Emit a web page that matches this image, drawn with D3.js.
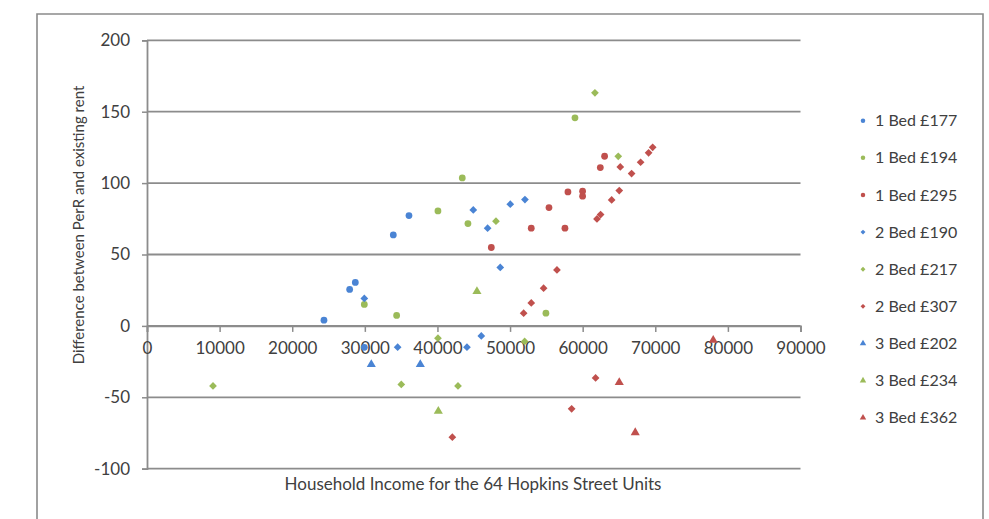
<!DOCTYPE html>
<html>
<head>
<meta charset="utf-8">
<script src="https://cdn.jsdelivr.net/npm/d3@7"></script>
<style>
  html, body { margin: 0; padding: 0; background: #fff; }
  svg { display: block; }
  text { font-family: Lato, "Open Sans", sans-serif; fill: #404040; }
</style>
</head>
<body>
<svg id="chart" width="989" height="519"></svg>
<script>
// Household income vs. difference between PerR and existing rent, by unit type
const xTicks = [0, 10000, 20000, 30000, 40000, 50000, 60000, 70000, 80000, 90000];
const yTicks = [-100, -50, 0, 50, 100, 150, 200];

const bed1_177 = [[24370, 4], [27910, 25.5], [28690, 30.4], [29930, -15], [33920, 63.7], [36080, 77.3]];
const bed1_194 = [[29930, 15], [34380, 7.3], [40070, 80.5], [43420, 103.6], [44200, 71.7], [54940, 8.9], [58940, 145.7]];
const bed1_295 = [[47420, 54.9], [52920, 68.4], [55360, 82.9], [57560, 68.4], [57970, 93.8], [59990, 94.3], [59990, 90.8], [62430, 110.9], [63020, 118.8]];
const bed2_190 = [[29930, 19.2], [34520, -14.9], [44065, -14.9], [44935, 81.2], [46040, -7], [46910, 68.4], [48650, 40.9], [50030, 85.2], [52050, 88.5]];
const bed2_217 = [[9090, -42], [35020, -41], [40070, -8.6], [42830, -42], [48060, 73.3], [52010, -10.9], [61690, 163.2], [64900, 118.8]];
const bed2_307 = [[42050, -77.9], [51870, 8.9], [52920, 16.1], [54620, 26.4], [56460, 39.2], [58480, -58.1], [61780, -36.4], [61970, 74.9], [62470, 78], [63990, 88.2], [65040, 94.8], [65180, 111.3], [66740, 106.7], [67980, 114.6], [69080, 121.2], [69640, 125.1]];
const bed3_202 = [[30890, -27], [37640, -27]];
const bed3_234 = [[40120, -59.7], [45440, 24.1]];
const bed3_362 = [[65040, -39.6], [67240, -74.7], [77980, -10]];

const BLUE = "#4a84d4", GREEN = "#9bbb59", RED = "#c0504d";

const series = [
  { name: "1 Bed £177", data: bed1_177, color: BLUE,  shape: "circle" },
  { name: "1 Bed £194", data: bed1_194, color: GREEN, shape: "circle" },
  { name: "1 Bed £295", data: bed1_295, color: RED,   shape: "circle" },
  { name: "2 Bed £190", data: bed2_190, color: BLUE,  shape: "diamond" },
  { name: "2 Bed £217", data: bed2_217, color: GREEN, shape: "diamond" },
  { name: "2 Bed £307", data: bed2_307, color: RED,   shape: "diamond" },
  { name: "3 Bed £202", data: bed3_202, color: BLUE,  shape: "triangle" },
  { name: "3 Bed £234", data: bed3_234, color: GREEN, shape: "triangle" },
  { name: "3 Bed £362", data: bed3_362, color: RED,   shape: "triangle" }
];

const svg = d3.select("#chart");
const GRID = "#8c8c8c";
const numFmt = d => String(d);   // plain hyphen for negatives

// outer frame
svg.append("path")
  .attr("d", "M37,519 V14 H983 V519")
  .attr("fill", "none").attr("stroke", "#8a8a8a").attr("stroke-width", 1.6);

const x = d3.scaleLinear().domain([0, 90000]).range([147, 800.5]);
const y = d3.scaleLinear().domain([-100, 200]).range([468.7, 40.3]);

// horizontal gridlines
svg.append("g").selectAll("line").data(yTicks).join("line")
  .attr("x1", x(0)).attr("x2", x(90000))
  .attr("y1", d => y(d)).attr("y2", d => y(d))
  .attr("stroke", GRID).attr("stroke-width", 1.8);

// y axis
const yAxis = svg.append("g").attr("transform", `translate(${x(0)},0)`)
  .call(d3.axisLeft(y).tickValues(yTicks).tickSize(5).tickPadding(12).tickFormat(numFmt));
yAxis.select(".domain").attr("stroke", GRID).attr("stroke-width", 1.8);
yAxis.selectAll(".tick line").attr("stroke", GRID).attr("stroke-width", 1.5);
yAxis.selectAll("text").attr("font-size", 17).attr("fill", "#404040")
  .style("font-family", "Lato, sans-serif");

// x axis along y = 0
const xAxis = svg.append("g").attr("transform", `translate(0,${y(0)})`)
  .call(d3.axisBottom(x).tickValues(xTicks).tickSize(6).tickPadding(10).tickFormat(numFmt));
xAxis.select(".domain").attr("stroke", GRID).attr("stroke-width", 1.8);
xAxis.selectAll(".tick line").attr("stroke", GRID).attr("stroke-width", 1.5);
xAxis.selectAll("text").attr("font-size", 17).attr("fill", "#404040")
  .style("font-family", "Lato, sans-serif");

// markers: circles, diamonds (rotated squares) and triangles
const symbolFor = { circle: d3.symbolCircle, diamond: d3.symbolSquare, triangle: d3.symbolTriangle };
const sizeFor = { circle: 36, diamond: 30, triangle: 36 };
const rotFor = { circle: 0, diamond: 45, triangle: 0 };
series.forEach(s => {
  svg.append("g").selectAll("path").data(s.data).join("path")
    .attr("transform", d => `translate(${x(d[0])},${y(d[1])}) rotate(${rotFor[s.shape]})`)
    .attr("d", d3.symbol().type(symbolFor[s.shape]).size(sizeFor[s.shape]))
    .attr("fill", s.color);
});

// axis titles
svg.append("text")
  .attr("x", 473).attr("y", 490)
  .attr("text-anchor", "middle").attr("font-size", 17)
  .text("Household Income for the 64 Hopkins Street Units");

svg.append("text")
  .attr("transform", "translate(84,225) rotate(-90)")
  .attr("text-anchor", "middle").attr("font-size", 15)
  .text("Difference between PerR and existing rent");

// legend
const legend = svg.append("g");
const legendY = d3.scalePoint().domain(series.map(s => s.name)).range([120.7, 417.7]);
series.forEach(s => {
  const g = legend.append("g").attr("transform", `translate(863,${legendY(s.name)}) rotate(${rotFor[s.shape]})`);
  g.append("path")
    .attr("d", d3.symbol().type(symbolFor[s.shape]).size(s.shape === "triangle" ? 18 : (s.shape === "diamond" ? 12 : 16)))
    .attr("fill", s.color);
  legend.append("text").attr("x", 875).attr("y", legendY(s.name)).attr("dy", "0.35em")
    .attr("font-size", 16).text(s.name);
});
</script>
</body>
</html>
